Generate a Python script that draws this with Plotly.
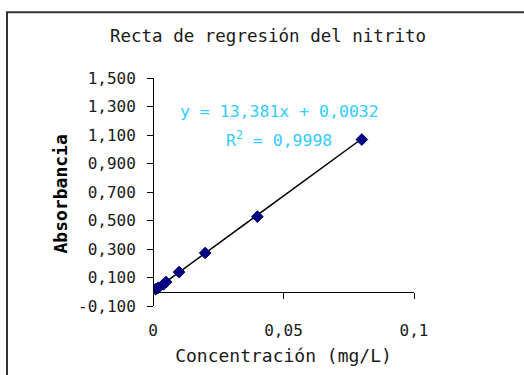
import plotly.graph_objects as go

# Data
conc = [0.001, 0.002, 0.004, 0.005, 0.01, 0.02, 0.04, 0.08]
absorb = [0.017, 0.028, 0.052, 0.068, 0.138, 0.272, 0.527, 1.068]
slope = 13.381
intercept = 0.0032
r2 = 0.9998

y_ticks = [-0.1, 0.1, 0.3, 0.5, 0.7, 0.9, 1.1, 1.3, 1.5]
y_ticktext = [f"{v:.3f}".replace(".", ",") for v in y_ticks]
x_ticks = [0, 0.05, 0.1]
x_ticktext = ["0", "0,05", "0,1"]

title = "Recta de regresión del nitrito"
x_title = "Concentración (mg/L)"
y_title = "Absorbancia"
eq_text = "y = 13,381x + 0,0032"
r2_text = "R<sup>2</sup> = 0,9998"

FONT = "DejaVu Sans Mono"
TXT = "#1a1a1a"
CYAN = "#33CCFF"
NAVY = "#000080"

x_line = [min(conc), max(conc)]
y_line = [slope * v + intercept for v in x_line]

fig = go.Figure()
fig.add_trace(go.Scatter(x=x_line, y=y_line, mode="lines",
                         line=dict(color="black", width=1.5), hoverinfo="skip"))
fig.add_trace(go.Scatter(x=conc, y=absorb, mode="markers",
                         marker=dict(symbol="diamond", size=9, color=NAVY,
                                     line=dict(color=NAVY, width=1))))

y_min, y_max = -0.1, 1.5
x_axis_pos = (0 - y_min) / (y_max - y_min)

W, H = 524, 375
L, R, T, B = 153, 414, 78, 310
PW, PH = R - L, B - T


def px(xp):
    return (xp - L) / PW


def py(yp):
    return (B - yp) / PH


fig.update_layout(
    width=W, height=H,
    margin=dict(l=L, r=W - R, t=T, b=H - B),
    paper_bgcolor="white", plot_bgcolor="white",
    showlegend=False,
    separators=",.",
    font=dict(family=FONT, size=15, color=TXT),
    title=dict(text=title, x=268 / W, xref="container", xanchor="center",
               y=1 - 36 / H, yref="container", yanchor="middle",
               font=dict(family=FONT, size=17.5, color=TXT)),
    xaxis=dict(range=[0, 0.1], tickvals=x_ticks, ticktext=x_ticktext,
               showgrid=False, zeroline=False, showline=True,
               linecolor="black", linewidth=1, ticks="outside", ticklen=6,
               tickcolor="black", anchor="free", position=x_axis_pos,
               ticklabelstandoff=18,
               title=dict(text=x_title, standoff=10,
                          font=dict(family=FONT, size=18, color=TXT)),
               tickfont=dict(family=FONT, size=16, color=TXT)),
    yaxis=dict(range=[y_min, y_max], tickvals=y_ticks, ticktext=y_ticktext,
               showgrid=False, zeroline=False, showline=True,
               linecolor="black", linewidth=1, ticks="outside", ticklen=6,
               tickcolor="black", anchor="free", position=0,
               ticklabelstandoff=8,
               tickfont=dict(family=FONT, size=16, color=TXT)),
)

fig.add_annotation(x=px(48), y=py(196), xref="paper", yref="paper",
                   text="<b>" + y_title + "</b>", showarrow=False, textangle=-90,
                   font=dict(family=FONT, size=18, color="black"))

fig.add_annotation(x=0.0483, y=1.264, xref="x", yref="y",
                   text=eq_text, showarrow=False,
                   font=dict(family=FONT, size=16.5, color=CYAN))
fig.add_annotation(x=0.0483, y=1.071, xref="x", yref="y",
                   text=r2_text, showarrow=False,
                   font=dict(family=FONT, size=16.5, color=CYAN))

# outer chart border (extends beyond the right and bottom edges)
fig.add_shape(type="rect", xref="paper", yref="paper",
              x0=px(7), x1=px(540), y0=py(390), y1=py(11),
              line=dict(color="#333333", width=2), fillcolor="rgba(0,0,0,0)",
              layer="below")

fig.write_html("out.html", config={"displayModeBar": False},
               post_script="document.body.style.margin='0px';")
